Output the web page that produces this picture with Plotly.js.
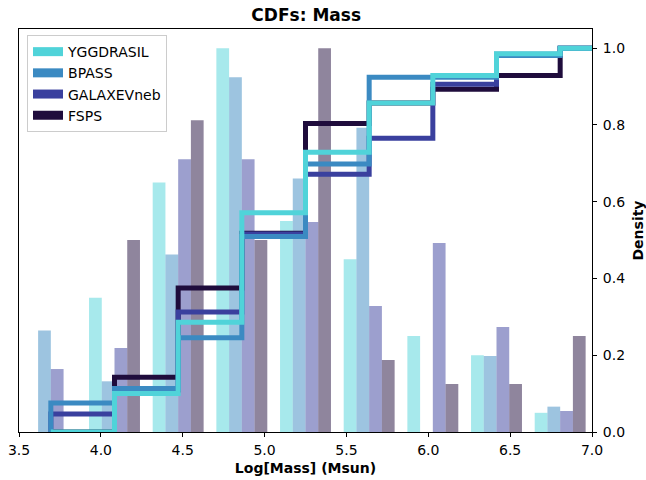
<!DOCTYPE html>
<html>
<head>
<meta charset="utf-8">
<script src="https://cdn.plot.ly/plotly-3.0.1.min.js"></script>
<style>
  html, body { margin: 0; padding: 0; background: #ffffff; }
  #chart { width: 646px; height: 480px; }
</style>
</head>
<body>
<div id="chart"></div>
<script>
// Log stellar mass histogram: counts per bin for each model
const binLow = 3.5;
const binHigh = 7.0;
const nBins = 9;

const seriesNames = ["YGGDRASIL", "BPASS", "GALAXEVneb", "FSPS"];
const yggdrasilCounts = [0, 7, 13, 20, 11, 9, 5, 4, 1];
const bpassCounts     = [4, 2, 7, 14, 10, 12, 0, 3, 1];
const galaxevCounts   = [3, 4, 13, 13, 10, 6, 9, 5, 1];
const fspsCounts      = [0, 8, 13, 8, 16, 3, 2, 2, 4];

const lineColors = ["#50d3d9", "#3b8ac2", "#3a409e", "#1f0c3c"];
const barColors  = ["rgba(80,211,217,0.5)", "rgba(59,138,194,0.5)",
                    "rgba(58,64,158,0.5)", "rgba(31,12,60,0.5)"];

const xTicks = [3.5, 4.0, 4.5, 5.0, 5.5, 6.0, 6.5, 7.0];
const cdfTicks = [0.0, 0.2, 0.4, 0.6, 0.8, 1.0];

const allCounts = [yggdrasilCounts, bpassCounts, galaxevCounts, fspsCounts];

const binWidth = (binHigh - binLow) / nBins;
const centers = [];
for (let i = 0; i < nBins; i++) centers.push(binLow + (i + 0.5) * binWidth);

const traces = [];
let maxDensity = 0;

// Histogram bars (density-normalised), grouped per bin
allCounts.forEach((counts, k) => {
  const total = counts.reduce((a, b) => a + b, 0);
  const density = counts.map(c => c / (total * binWidth));
  maxDensity = Math.max(maxDensity, ...density);
  traces.push({
    type: "bar",
    x: centers,
    y: density,
    name: seriesNames[k],
    marker: { color: barColors[k], line: { width: 0 } },
    showlegend: false,
    hoverinfo: "skip",
    xaxis: "x",
    yaxis: "y"
  });
});

// Cumulative distributions as steps at bin centres (drawn in reverse so YGGDRASIL is on top)
const cdfTraces = [];
allCounts.forEach((counts, k) => {
  const total = counts.reduce((a, b) => a + b, 0);
  let run = 0;
  const cdf = counts.map(c => (run += c) / total);
  const xs = [centers[0]].concat(centers, [binHigh]);
  const ys = [0].concat(cdf, [cdf[cdf.length - 1]]);
  cdfTraces.push({
    type: "scatter",
    mode: "lines",
    x: xs,
    y: ys,
    line: { color: lineColors[k], width: 5, shape: "hv" },
    showlegend: false,
    hoverinfo: "skip",
    xaxis: "x",
    yaxis: "y2"
  });
});
cdfTraces.reverse().forEach(t => traces.push(t));

// Legend handles
seriesNames.forEach((name, k) => {
  traces.push({
    type: "scatter",
    mode: "lines",
    x: [null],
    y: [null],
    name: name,
    line: { color: lineColors[k], width: 9 },
    legendrank: k + 1,
    xaxis: "x",
    yaxis: "y2"
  });
});

const font = "DejaVu Sans, Verdana, sans-serif";

const layout = {
  width: 646,
  height: 480,
  margin: { l: 19, r: 54, t: 29, b: 48 },
  paper_bgcolor: "#ffffff",
  plot_bgcolor: "#ffffff",
  font: { family: font, size: 14, color: "#000000" },
  barmode: "group",
  bargap: 0.2,
  bargroupgap: 0,
  title: {
    text: "<b>CDFs: Mass</b>",
    font: { family: font, size: 17, color: "#000000" },
    x: 0.474, xanchor: "center",
    y: 0.969, yanchor: "middle"
  },
  xaxis: {
    range: [binLow, binHigh],
    tickvals: xTicks,
    ticktext: xTicks.map(v => v.toFixed(1)),
    ticks: "outside",
    ticklen: 4,
    tickwidth: 1,
    tickcolor: "#000000",
    showline: true,
    linecolor: "#000000",
    linewidth: 1,
    mirror: true,
    showgrid: false,
    zeroline: false,
    tickfont: { family: font, size: 14 },
    ticklabelstandoff: 1,
    title: { text: "<b>Log[Mass] (Msun)</b>", font: { family: font, size: 14 }, standoff: 6 }
  },
  yaxis: {
    range: [0, maxDensity * 1.05],
    showticklabels: false,
    ticks: "",
    showline: true,
    linecolor: "#000000",
    linewidth: 1,
    showgrid: false,
    zeroline: false
  },
  yaxis2: {
    overlaying: "y",
    side: "right",
    range: [0, 1.05],
    tickvals: cdfTicks,
    ticktext: cdfTicks.map(v => v.toFixed(1)),
    ticks: "outside",
    ticklen: 4,
    tickwidth: 1,
    tickcolor: "#000000",
    showline: true,
    linecolor: "#000000",
    linewidth: 1,
    showgrid: false,
    zeroline: false,
    tickfont: { family: font, size: 14 },
    ticklabelstandoff: 3,
    title: { text: "<b>Density</b>", font: { family: font, size: 14 }, standoff: 9 }
  },
  legend: {
    x: 0.014, xanchor: "left",
    y: 0.985, yanchor: "top",
    bgcolor: "rgba(255,255,255,0.8)",
    bordercolor: "#cccccc",
    borderwidth: 1,
    font: { family: font, size: 14 },
    itemwidth: 30,
    traceorder: "normal"
  },
  showlegend: true
};

Plotly.newPlot("chart", traces, layout, { displayModeBar: false, staticPlot: true });
</script>
</body>
</html>
